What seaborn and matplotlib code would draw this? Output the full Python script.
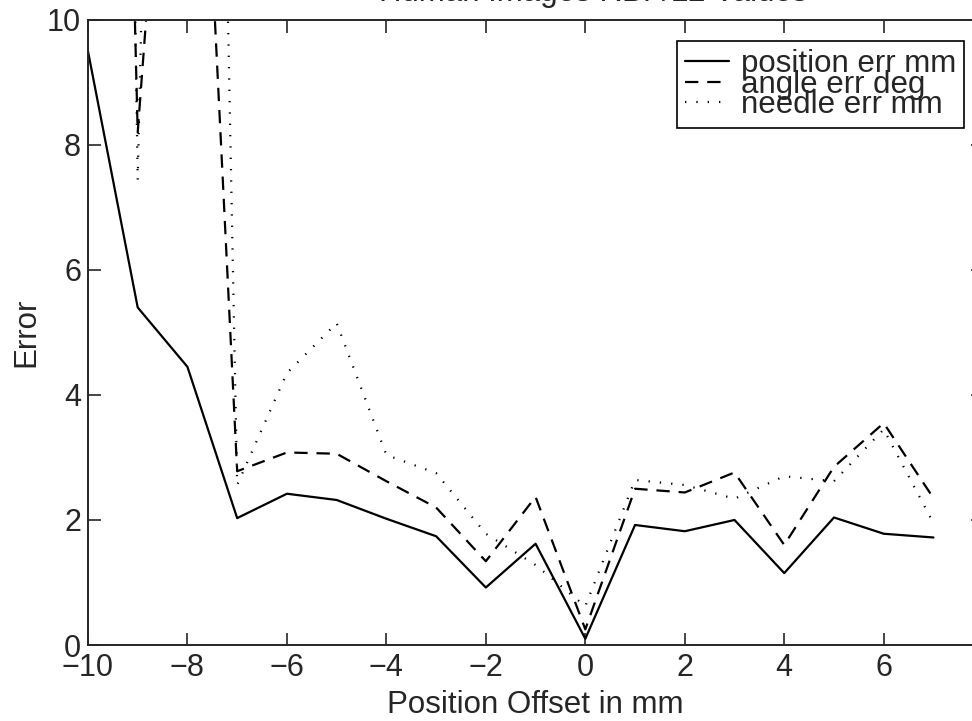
import numpy as np
import pandas as pd
import matplotlib
matplotlib.use("Agg")
import matplotlib.pyplot as plt
import seaborn as sns

offset_mm = [-10, -9, -8, -7, -6, -5, -4, -3, -2, -1, 0, 1, 2, 3, 4, 5, 6, 7]
position_err = [9.5, 5.4, 4.45, 2.03, 2.42, 2.32, 2.02, 1.74, 0.92, 1.62, 0.1,
                1.92, 1.82, 2.0, 1.15, 2.04, 1.78, 1.72]
angle_err = [40.0, 8.2, 18.9, 2.78, 3.08, 3.06, 2.62, 2.2, 1.34, 2.37, 0.25,
             2.5, 2.44, 2.76, 1.6, 2.85, 3.55, 2.35]
needle_err = [60.0, 7.44, 43.0, 2.56, 4.35, 5.15, 3.04, 2.75, 1.78, 1.28, 0.62,
              2.64, 2.56, 2.34, 2.7, 2.62, 3.45, 1.95]

labels = ["position err mm", "angle err deg", "needle err mm"]

df = pd.DataFrame({
    "offset": offset_mm * 3,
    "err": position_err + angle_err + needle_err,
    "series": [labels[0]] * len(offset_mm) + [labels[1]] * len(offset_mm) + [labels[2]] * len(offset_mm),
})

sns.set_style("ticks")
plt.rcParams["font.family"] = ["Liberation Sans", "DejaVu Sans"]

fig = plt.figure(figsize=(9.72, 7.21), dpi=100)
ax = fig.add_axes([0.0905, 0.1054, 0.921, 0.867])

sns.lineplot(data=df, x="offset", y="err", style="series", color="black",
             dashes={labels[0]: "", labels[1]: (6, 4), labels[2]: (0.6, 4.5)},
             linewidth=1.6, ax=ax, legend=True)

ax.set_xlim(-10, 8)
ax.set_ylim(0, 10)
ax.set_xticks([-10, -8, -6, -4, -2, 0, 2, 4, 6])
ax.set_xticklabels(["\u221210", "\u22128", "\u22126", "\u22124", "\u22122", "0", "2", "4", "6"])
ax.set_yticks([0, 2, 4, 6, 8, 10])
ax.tick_params(direction="in", length=9, width=1.2, labelsize=22, top=True, right=True, pad=5)
ax.tick_params(axis="x", pad=6)
for s in ax.spines.values():
    s.set_visible(True)
    s.set_linewidth(1.4)

ax.set_xlabel("Position Offset in mm", fontsize=22.5, labelpad=5)
ax.set_ylabel("Error", fontsize=22.5, labelpad=4)

leg = ax.legend(loc="upper right", bbox_to_anchor=(0.979, 0.966), fontsize=22.5,
                frameon=True, fancybox=False, edgecolor="black", framealpha=1,
                labelspacing=-0.3, handlelength=1.4, handletextpad=0.4,
                borderpad=0.25, borderaxespad=0)
leg.get_frame().set_linewidth(1.2)

fig.text(0.61, 0.9985, "Human Images RBF/L2 Values", ha="center", va="baseline", fontsize=22.5)

fig.savefig("out.png", dpi=100)
